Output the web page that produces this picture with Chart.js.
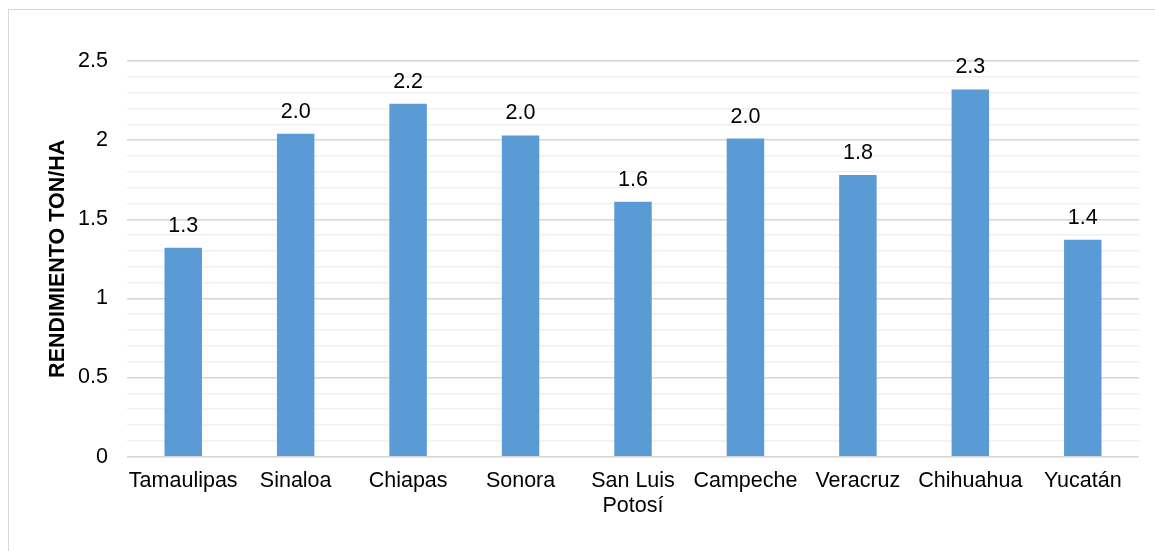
<!DOCTYPE html>
<html>
<head>
<meta charset="utf-8">
<script src="https://cdn.jsdelivr.net/npm/chart.js@4/dist/chart.umd.min.js"></script>
<style>
  html, body { margin: 0; padding: 0; background: #fff; overflow: hidden; }
  #wrap { position: relative; width: 1155px; height: 551px; }
  #frame { position: absolute; left: 8px; top: 9px; width: 1200px; height: 600px;
           border: 1px solid #d9d9d9; box-sizing: border-box; }
  canvas { position: absolute; left: 0; top: 0; }
</style>
</head>
<body>
<div id="wrap">
  <div id="frame"></div>
  <canvas id="chart" width="1155" height="551"></canvas>
</div>
<script>
// Rendimiento por estado (ton/ha)
const estados = ['Tamaulipas', 'Sinaloa', 'Chiapas', 'Sonora', ['San Luis', 'Potosí'],
                 'Campeche', 'Veracruz', 'Chihuahua', 'Yucatán'];
const rendimiento = [1.32, 2.04, 2.23, 2.03, 1.61, 2.01, 1.78, 2.32, 1.37];
const ejeY = { min: 0, max: 2.5, paso: 0.1, etiquetaCada: 0.5 };
const tituloY = 'RENDIMIENTO TON/HA';

const FONT = '"Liberation Sans", Arial, sans-serif';
const FS = 21.5;

// Valores sobre cada barra
const etiquetasValor = {
  id: 'etiquetasValor',
  afterDatasetsDraw(chart) {
    const ctx = chart.ctx;
    const meta = chart.getDatasetMeta(0);
    ctx.save();
    ctx.font = FS + 'px ' + FONT;
    ctx.fillStyle = '#000';
    ctx.textAlign = 'center';
    ctx.textBaseline = 'alphabetic';
    meta.data.forEach((bar, i) => {
      ctx.fillText(rendimiento[i].toFixed(1), bar.x, bar.y - 16);
    });
    ctx.restore();
  }
};

const esMayor = v => Math.abs(v / ejeY.etiquetaCada - Math.round(v / ejeY.etiquetaCada)) < 1e-6;

new Chart(document.getElementById('chart'), {
  type: 'bar',
  data: {
    labels: estados,
    datasets: [{
      data: rendimiento,
      backgroundColor: '#5B9BD5',
      borderWidth: 0,
      categoryPercentage: 1,
      barPercentage: 1 / 3
    }]
  },
  options: {
    responsive: false,
    animation: false,
    events: [],
    layout: { padding: { left: 9, right: 16, top: 61, bottom: 20 } },
    plugins: { legend: { display: false }, tooltip: { enabled: false } },
    scales: {
      x: {
        grid: { display: false, drawTicks: false },
        border: { display: false },
        ticks: {
          color: '#000',
          padding: 12,
          autoSkip: false,
          maxRotation: 0,
          font: { family: FONT, size: FS, lineHeight: 1.17 }
        }
      },
      y: {
        min: ejeY.min,
        max: ejeY.max,
        afterFit(scale) { scale.width = 118; },
        grid: {
          drawTicks: false,
          color: ctx => esMayor(ctx.tick.value) ? '#d6d6d6' : '#f0f0f0',
          lineWidth: 1.5
        },
        border: { display: false },
        ticks: {
          stepSize: ejeY.paso,
          autoSkip: false,
          padding: 19,
          color: '#000',
          font: { family: FONT, size: FS },
          callback: v => esMayor(v) ? String(Math.round(v * 10) / 10) : ''
        },
        title: {
          display: true,
          text: tituloY,
          color: '#000',
          padding: { top: 36, bottom: 0 },
          font: { family: FONT, size: FS, weight: 'bold' }
        }
      }
    }
  },
  plugins: [etiquetasValor]
});
</script>
</body>
</html>
